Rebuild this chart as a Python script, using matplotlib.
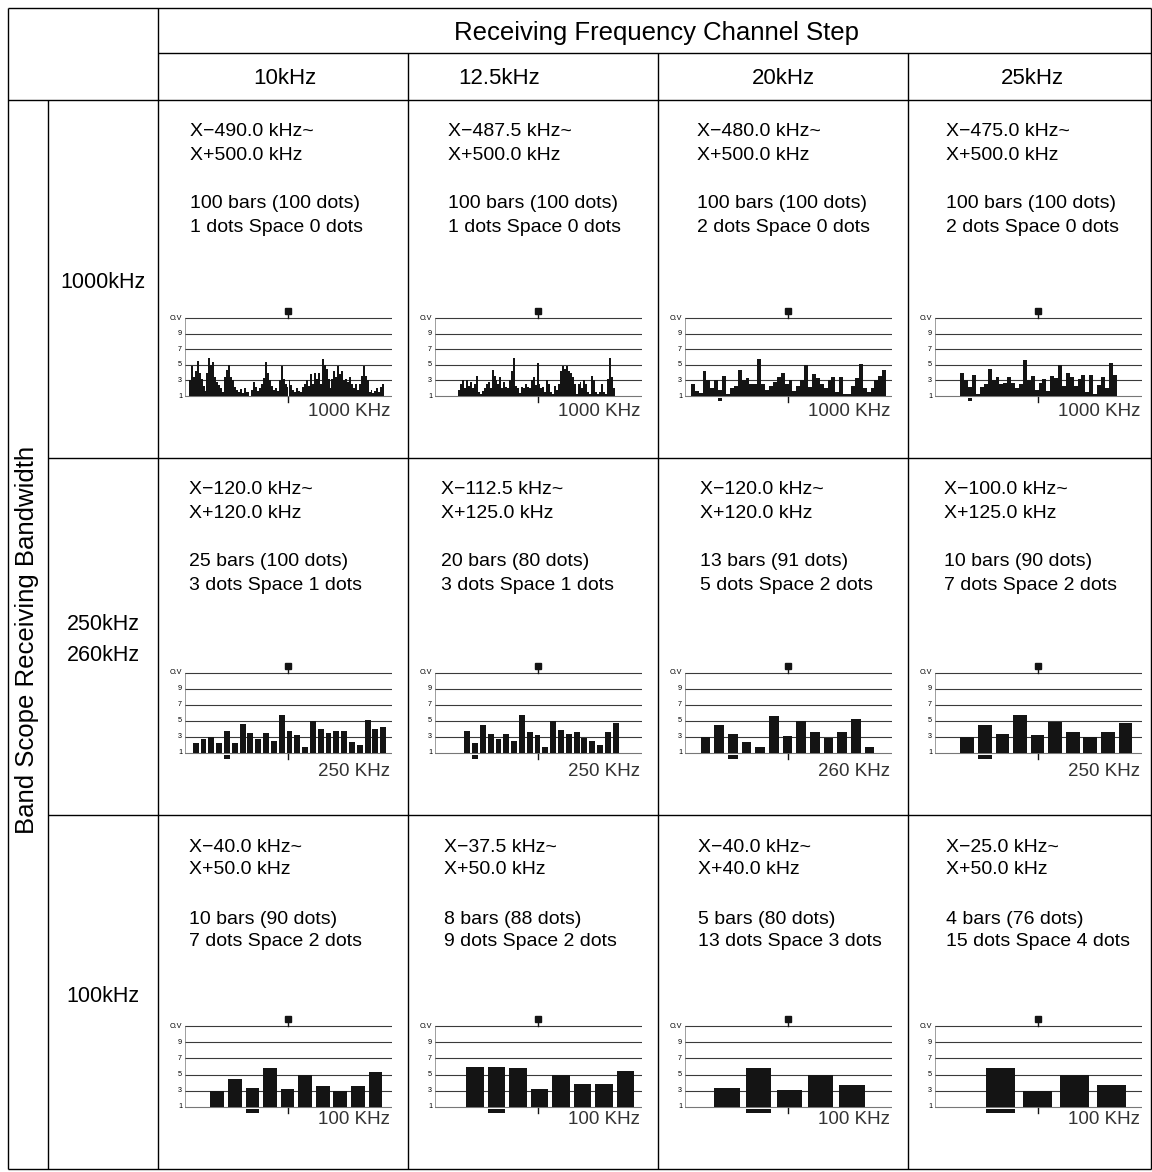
import matplotlib
matplotlib.use('Agg')
import matplotlib.pyplot as plt

# Table text
steps = ['10kHz', '12.5kHz', '20kHz', '25kHz']
bandwidths = ['1000kHz', '250kHz\n260kHz', '100kHz']

range_from = [
    ['X−490.0 kHz~', 'X−487.5 kHz~', 'X−480.0 kHz~', 'X−475.0 kHz~'],
    ['X−120.0 kHz~', 'X−112.5 kHz~', 'X−120.0 kHz~', 'X−100.0 kHz~'],
    ['X−40.0 kHz~', 'X−37.5 kHz~', 'X−40.0 kHz~', 'X−25.0 kHz~'],
]
range_to = [
    ['X+500.0 kHz', 'X+500.0 kHz', 'X+500.0 kHz', 'X+500.0 kHz'],
    ['X+120.0 kHz', 'X+125.0 kHz', 'X+120.0 kHz', 'X+125.0 kHz'],
    ['X+50.0 kHz', 'X+50.0 kHz', 'X+40.0 kHz', 'X+50.0 kHz'],
]
bar_counts = [
    ['100 bars (100 dots)', '100 bars (100 dots)', '100 bars (100 dots)', '100 bars (100 dots)'],
    ['25 bars (100 dots)', '20 bars (80 dots)', '13 bars (91 dots)', '10 bars (90 dots)'],
    ['10 bars (90 dots)', '8 bars (88 dots)', '5 bars (80 dots)', '4 bars (76 dots)'],
]
bar_dots = [[1, 1, 2, 2], [3, 3, 5, 7], [7, 9, 13, 15]]
space_dots = [[0, 0, 0, 0], [1, 1, 2, 2], [2, 2, 3, 4]]
scope_labels = [
    ['1000 KHz', '1000 KHz', '1000 KHz', '1000 KHz'],
    ['250 KHz', '250 KHz', '260 KHz', '250 KHz'],
    ['100 KHz', '100 KHz', '100 KHz', '100 KHz'],
]

# Bar levels (1 = floor, 11 = O.V)
levels_1000_10 = [
    3.0, 4.8, 3.5, 4.2, 5.5, 4.0, 3.2, 2.3, 1.7, 4.0,
    5.9, 5.0, 5.4, 3.5, 2.8, 2.4, 2.0, 1.5, 3.5, 4.3,
    5.0, 3.5, 3.0, 2.2, 1.8, 1.5, 1.9, 1.4, 2.0, 1.5,
    1.5, 1.0, 1.8, 2.8, 2.2, 1.7, 2.0, 2.6, 3.3, 5.4,
    4.0, 3.0, 2.3, 1.8, 2.0, 1.7, 3.0, 4.9, 3.2, 2.5,
    2.2, 3.0, 2.4, 1.8, 1.5, 2.0, 1.7, 1.5, 2.2, 2.5,
    3.0, 2.3, 3.8, 2.5, 4.0, 3.2, 4.0, 2.5, 5.8, 5.0,
    4.5, 3.2, 2.0, 3.2, 4.2, 3.5, 4.8, 3.8, 4.2, 3.0,
    3.2, 2.8, 3.5, 2.5, 2.0, 2.5, 1.8, 2.5, 3.6, 4.9,
    3.6, 3.0, 1.5, 1.8, 1.4, 1.6, 2.0, 1.5, 2.2, 2.5,
]
levels_1000_12_5 = [
    1.8, 2.5, 3.0, 2.0, 3.0, 2.3, 2.8, 2.0, 2.5, 3.6,
    1.5, 1.2, 1.6, 2.0, 2.5, 2.8, 2.0, 4.3, 3.6, 3.0,
    2.5, 3.4, 2.0, 2.8, 2.2, 2.0, 3.0, 4.2, 5.9, 2.3,
    2.0, 1.4, 2.2, 2.0, 2.5, 2.2, 2.0, 3.0, 3.4, 2.4,
    5.2, 2.5, 2.0, 2.2, 1.5, 3.0, 2.6, 1.5, 1.2, 2.3,
    1.8, 2.5, 4.2, 4.8, 4.5, 4.8, 4.2, 4.0, 3.5, 2.5,
    1.3, 2.5, 2.8, 2.0, 3.0, 2.5, 1.5, 1.3, 3.6, 3.0,
    1.5, 1.2, 1.5, 2.5, 1.5, 1.3, 3.2, 5.9, 3.5, 2.0,
]
levels_1000_20 = [
    2.6, 1.6, 1.4, 4.2, 3.0, 2.0, 3.0, 1.8, 3.6, 1.2,
    2.0, 2.3, 4.3, 3.0, 3.3, 2.5, 2.5, 5.8, 2.5, 1.8,
    2.3, 2.8, 3.5, 4.0, 2.5, 3.0, 1.7, 2.3, 3.0, 5.0,
    2.2, 3.8, 3.3, 2.5, 2.0, 3.0, 3.5, 1.5, 3.5, 1.3,
    1.2, 2.3, 3.3, 5.1, 2.0, 1.5, 2.0, 3.0, 3.6, 4.3,
]
levels_1000_25 = [
    3.9, 3.0, 2.2, 3.7, 1.3, 2.2, 2.5, 4.4, 3.0, 3.4,
    2.5, 2.7, 3.4, 2.7, 2.0, 2.5, 5.6, 3.0, 3.6, 1.8,
    2.7, 3.2, 1.6, 3.6, 3.3, 5.0, 2.3, 4.0, 3.5, 2.3,
    3.2, 3.7, 1.5, 3.7, 1.2, 2.4, 3.4, 2.0, 5.2, 3.7,
]
levels_250_10 = [2.2, 2.7, 3.0, 2.2, 3.7, 2.2, 4.6, 3.5, 2.7, 3.5, 2.5, 5.7, 3.7,
                 3.2, 1.7, 5.0, 4.0, 3.5, 3.7, 3.7, 2.4, 2.0, 5.1, 4.0, 4.3]
levels_250_12_5 = [3.7, 2.3, 4.5, 3.4, 2.7, 3.4, 2.5, 5.7, 3.6, 3.2,
                   1.7, 5.0, 3.9, 3.4, 3.6, 2.9, 2.5, 2.0, 3.6, 4.8]
levels_260_20 = [3.0, 4.5, 3.4, 2.4, 1.7, 5.6, 3.1, 5.0, 3.6, 2.9, 3.6, 5.2, 1.7]
levels_250_25 = [3.0, 4.5, 3.4, 5.7, 3.2, 4.9, 3.6, 3.0, 3.6, 4.7]
levels_100_10 = [3.0, 4.5, 3.4, 5.8, 3.2, 4.9, 3.6, 3.0, 3.6, 5.3]
levels_100_12_5 = [6.0, 6.0, 5.8, 3.2, 5.0, 3.8, 3.8, 5.5]
levels_100_20 = [3.4, 5.8, 3.1, 5.0, 3.7]
levels_100_25 = [5.8, 3.0, 5.0, 3.7]

scope_levels = [
    [levels_1000_10, levels_1000_12_5, levels_1000_20, levels_1000_25],
    [levels_250_10, levels_250_12_5, levels_260_20, levels_250_25],
    [levels_100_10, levels_100_12_5, levels_100_20, levels_100_25],
]
# bar marked with the cursor underline (None = no underline)
cursor_bar = [[None, None, 7, 2], [4, 1, 2, 1], [2, 1, 1, 0]]
scale_ticks = [(11, 'O.V'), (9, '9'), (7, '7'), (5, '5'), (3, '3'), (1, '1')]

W, H = 1152, 1172


def main():
    plt.rcParams['font.family'] = ['Liberation Sans', 'DejaVu Sans']

    fig = plt.figure(figsize=(W / 100, H / 100), dpi=100)
    ax = fig.add_axes([0, 0, 1, 1])
    ax.set_xlim(0, W)
    ax.set_ylim(H, 0)
    ax.axis('off')

    col_left = [158, 408, 658, 908]
    right = 1151
    row_top = [100, 458, 815]
    bottom = 1169

    def line(x0, y0, x1, y1):
        ax.plot([x0, x1], [y0, y1], color='black', lw=1.0, solid_capstyle='butt')

    # table grid
    line(8, 8, right, 8)
    line(158, 53, right, 53)
    line(8, 100, right, 100)
    line(48, 458, right, 458)
    line(48, 815, right, 815)
    line(8, bottom, right, bottom)
    line(8, 8, 8, bottom)
    line(48, 100, 48, bottom)
    line(158, 8, 158, bottom)
    for x in col_left[1:]:
        line(x, 53, x, bottom)
    line(right, 8, right, bottom)

    # headers
    ax.text(656, 33, 'Receiving Frequency Channel Step', ha='center', va='center', fontsize=18.5)
    head_x = [285, 499, 783, 1032]
    for x, s in zip(head_x, steps):
        ax.text(x, 79, s, ha='center', va='center', fontsize=16)
    ax.text(27, 640, 'Band Scope Receiving Bandwidth', ha='center', va='center',
            rotation=90, fontsize=18.5)
    label_y = [283, 640, 996]
    for y, s in zip(label_y, bandwidths):
        ax.text(103, y, s, ha='center', va='center', fontsize=15.5, linespacing=1.62)

    text_dx = [[32, 40, 39, 38], [31, 33, 42, 36], [31, 36, 40, 38]]
    text_dy = [32, 55, 104, 127]
    ov_off = [218, 215, 211]
    base_off = [296, 295, 292]
    label_off = [311, 313, 304]
    start_dots = [[2, 12, 3, 13], [4, 15, 8, 13], [13, 16, 15, 26]]

    for r in range(3):
        for c in range(4):
            x0 = col_left[c] + text_dx[r][c]
            y0 = row_top[r]
            spec = f'{bar_dots[r][c]} dots Space {space_dots[r][c]} dots'
            for dy, s in zip(text_dy, [range_from[r][c], range_to[r][c], bar_counts[r][c], spec]):
                ax.text(x0, y0 + dy, s, ha='left', va='center', fontsize=14)

            # band scope picture
            ov_y = row_top[r] + ov_off[r]
            base_y = row_top[r] + base_off[r]
            unit = (base_y - ov_y) / 10
            left = col_left[c] + 27
            top = ov_y - 1.5 * unit
            sax = fig.add_axes([left / W, 1 - (top + 12.5 * unit) / H, 207 / W, 12.5 * unit / H])
            sax.set_xlim(0, 106)
            sax.set_ylim(0, 12.5)
            sax.axis('off')

            levels = scope_levels[r][c]
            bw = bar_dots[r][c]
            pitch = bw + space_dots[r][c]
            xs = [start_dots[r][c] + i * pitch for i in range(len(levels))]
            sax.bar(xs, [v - 1 for v in levels], width=bw, bottom=1, align='edge',
                    color='#141414', linewidth=0, zorder=2)

            for lv, s in scale_ticks:
                sax.axhline(lv, color='#3a3a3a' if lv > 1 else '#777777', lw=0.8, zorder=1)
                sax.text(-1.5, lv, s, ha='right', va='center', fontsize=5.2, clip_on=False)
            sax.plot([0, 0], [1, 11], color='#777777', lw=0.5)
            sax.plot([52.5, 52.5], [11, 11.7], color='#141414', lw=1.0)
            sax.plot([52.5], [11.9], marker='s', ms=4, color='#141414', clip_on=False)
            sax.plot([52.5, 52.5], [0.2, 0.9], color='#141414', lw=1.0)
            cb = cursor_bar[r][c]
            if cb is not None:
                sax.bar(xs[cb], 0.45, width=bw, bottom=0.3, align='edge',
                        color='#141414', linewidth=0)

            ax.text(col_left[c] + 232, row_top[r] + label_off[r], scope_labels[r][c],
                    ha='right', va='center', fontsize=13.5, color='#333333')

    fig.savefig('out.png', dpi=100)


if __name__ == '__main__':
    main()
